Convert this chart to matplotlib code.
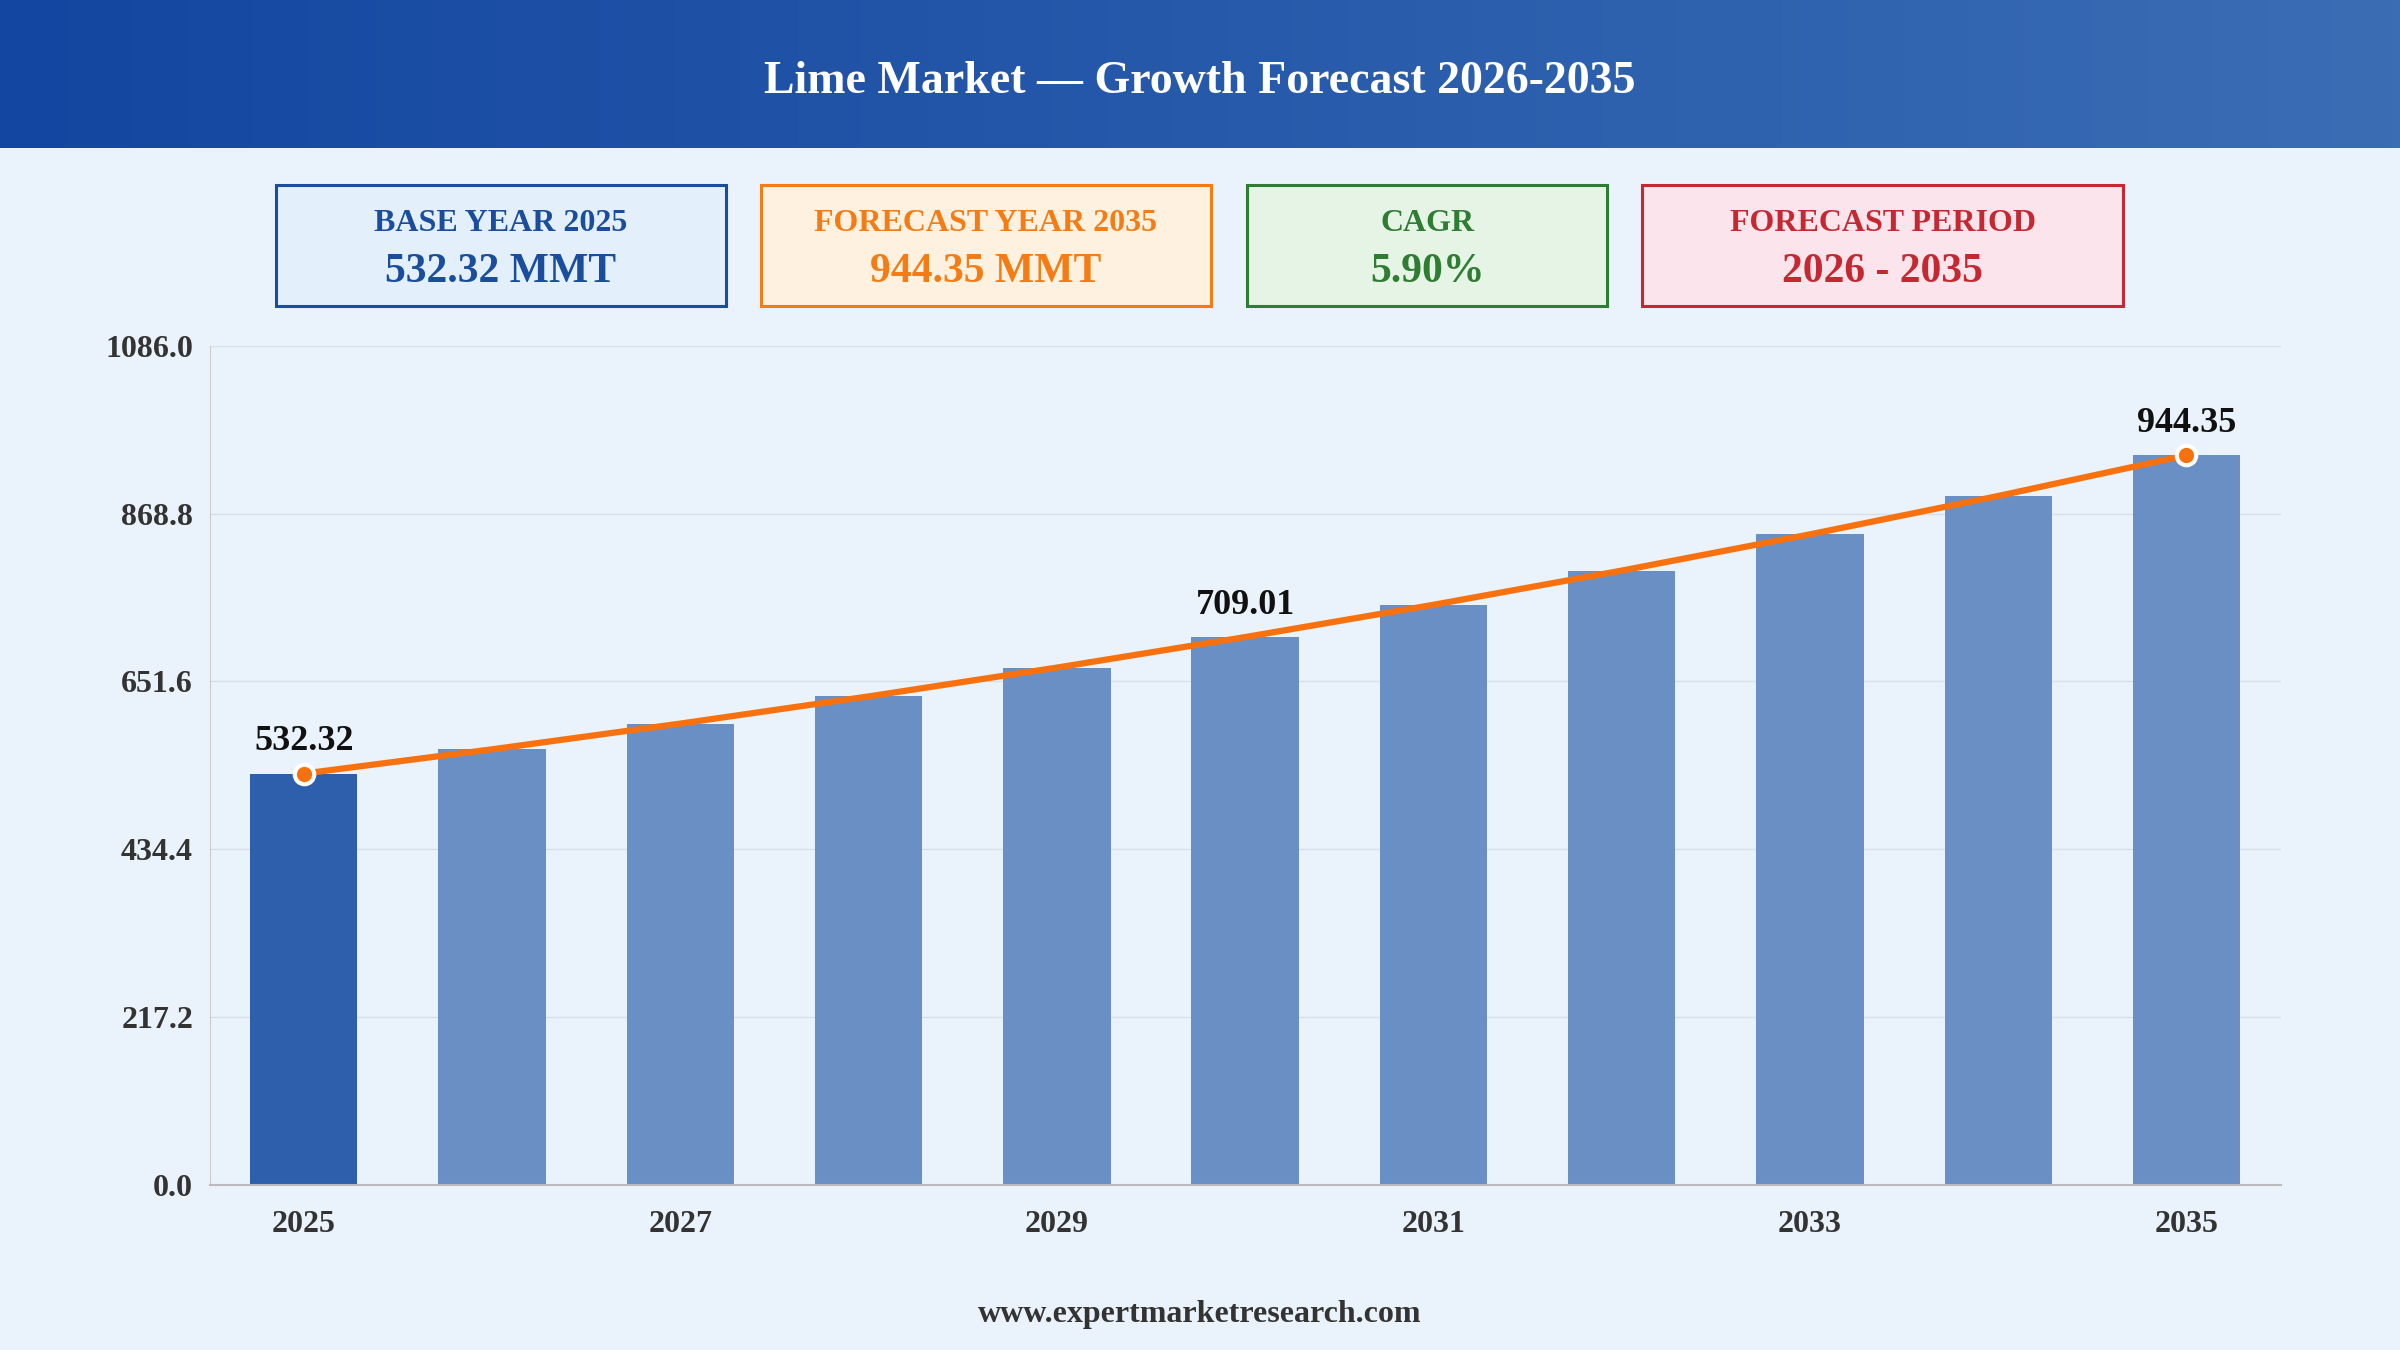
import matplotlib
matplotlib.use("Agg")
import matplotlib.pyplot as plt
import numpy as np
from matplotlib.patches import Rectangle
from matplotlib.colors import LinearSegmentedColormap

years = [2025, 2026, 2027, 2028, 2029, 2030, 2031, 2032, 2033, 2034, 2035]
values = [532.32, 563.7, 597.0, 632.2, 669.5, 709.01, 750.8, 795.1, 842.0, 891.7, 944.35]
labeled_years = [2025, 2030, 2035]
marker_years = [2025, 2035]
yticks = [0.0, 217.2, 434.4, 651.6, 868.8, 1086.0]
xticks = [2025, 2027, 2029, 2031, 2033, 2035]
title = "Lime Market \u2014 Growth Forecast 2026-2035"
boxes = [("BASE YEAR 2025", "532.32 MMT", "#1A4E9C", "#E3F0FB"),
         ("FORECAST YEAR 2035", "944.35 MMT", "#F57C14", "#FFF1DF"),
         ("CAGR", "5.90%", "#2E7D32", "#E6F4E6"),
         ("FORECAST PERIOD", "2026 - 2035", "#C62832", "#FCE4EC")]
footer = "www.expertmarketresearch.com"

plt.rcParams['font.family'] = ['Liberation Serif', 'DejaVu Serif']
W, H = 1568, 882
fig = plt.figure(figsize=(24, 13.5), dpi=100)
fig.patch.set_facecolor("#EAF2FB")

hax = fig.add_axes([0, 1 - 97 / H, 1, 97 / H])
grad = np.linspace(0, 1, 256)[None, :]
cm = LinearSegmentedColormap.from_list("h", ["#1346A0", "#3A6DB4"])
hax.imshow(grad, aspect="auto", cmap=cm, extent=[0, 1, 0, 1])
hax.set_axis_off()
hax.text(0.5, 0.45, title, color="white", fontsize=33, fontweight="bold", ha="center", va="center")

bx = [(180, 474), (497, 791), (815, 1050), (1073, 1387)]
for (x0, x1), (lab, val, col, bg) in zip(bx, boxes):
    fig.patches.append(Rectangle((x0 / W, 1 - 200 / H), (x1 - x0) / W, 79 / H,
                                 transform=fig.transFigure, facecolor=bg, edgecolor=col, lw=2.2))
    cx = (x0 + x1) / 2 / W
    fig.text(cx, 1 - 146 / H, lab, color=col, fontsize=23, fontweight="bold", ha="center", va="center")
    fig.text(cx, 1 - 178 / H, val, color=col, fontsize=30, fontweight="bold", ha="center", va="center")

ax = fig.add_axes([137 / W, 1 - 774 / H, (1490 - 137) / W, (774 - 226) / H])
ax.set_facecolor("#EAF2FB")
colors = ["#2E5FAD"] + ["#6A8FC4"] * (len(years) - 1)
ax.bar(years, values, width=0.57, color=colors, zorder=2)
ax.plot(years, values, color="#F7720F", lw=4.5, zorder=3)
for y, v in zip(years, values):
    if y in marker_years:
        ax.plot(y, v, "o", ms=14, mfc="#F7720F", mec="white", mew=3, zorder=4)
    if y in labeled_years:
        ax.text(y, v + 20, f"{v:.2f}", ha="center", va="bottom", fontsize=26, fontweight="bold", color="#111111")
ax.set_ylim(0, 1086)
ax.set_xlim(2024.5, 2035.5)
ax.set_yticks(yticks)
ax.set_yticklabels([f"{t:.1f}" for t in yticks])
ax.set_xticks(xticks)
ax.set_xticklabels([str(x) for x in xticks])
ax.tick_params(axis="both", length=0, labelsize=23, colors="#333333")
ax.tick_params(axis="x", pad=18)
ax.tick_params(axis="y", pad=12)
for l in ax.get_xticklabels() + ax.get_yticklabels():
    l.set_fontweight("bold")
ax.grid(axis="y", color="#D8DFE8", lw=1, zorder=0)
for s in ["top", "right"]:
    ax.spines[s].set_visible(False)
ax.spines["left"].set_color("#CCCCCC")
ax.spines["bottom"].set_color("#BBBBBB")
ax.spines["bottom"].set_linewidth(1.5)

fig.text(0.5, 1 - 859 / H, footer, ha="center", va="center", fontsize=23, fontweight="bold", color="#333333")
fig.savefig("out.png", dpi=100, facecolor=fig.get_facecolor())
